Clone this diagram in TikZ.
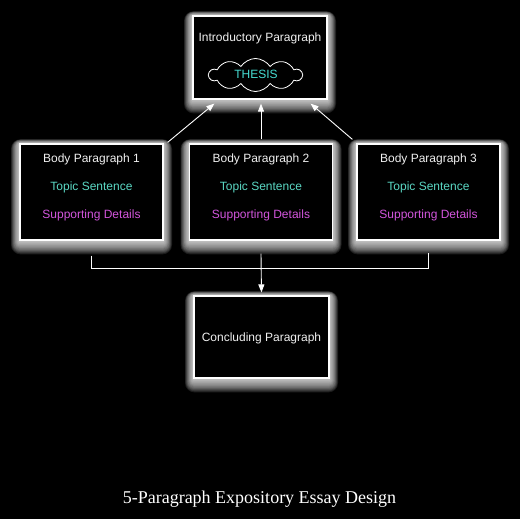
\documentclass[tikz,border=0pt]{standalone}
\usepackage{fontspec}
\setmainfont{Liberation Sans}
\newfontfamily\titlefont{Liberation Serif}
\usetikzlibrary{shapes.symbols,arrows.meta,backgrounds,calc}
\definecolor{topiccol}{RGB}{90,215,195}
\definecolor{suppcol}{RGB}{210,85,220}
\definecolor{thesiscol}{RGB}{70,220,210}
\definecolor{txtcol}{RGB}{240,240,240}
\begin{document}
\begin{tikzpicture}[x=1pt,y=-1pt,
  box/.style={draw=white, line width=1.2pt, fill=black, inner sep=0pt},
  bodybox/.style={box, minimum width=143pt, minimum height=96pt},
  lbl/.style={text=txtcol, font=\fontsize{12}{14}\selectfont, anchor=base, inner sep=0pt},
  topic/.style={lbl, text=topiccol},
  supp/.style={lbl, text=suppcol},
  conn/.style={draw=white, line width=0.9pt},
  arr/.style={conn, -{Triangle[length=8pt,width=6pt]}},
]
\useasboundingbox (0,0) rectangle (520,519);
% boxes
\node[box, minimum width=134pt, minimum height=83pt] (intro) at (260,57.5) {};
\node[bodybox] (b1) at (91.5,192) {};
\node[bodybox] (b2) at (261,192) {};
\node[bodybox] (b3) at (428.5,192) {};
\node[box, minimum width=135pt, minimum height=82pt] (conc) at (261.5,337) {};
% intro contents
\node[lbl] (introtxt) at (260,41.5) {Introductory Paragraph};
\node[cloud, draw=white, line width=0.8pt, cloud puffs=10, cloud puff arc=115,
      cloud ignores aspect, minimum width=93pt, minimum height=33pt, inner sep=0pt] (cloud) at (255.5,75) {};
\node[lbl, text=thesiscol] (thesis) at (256,78.7) {THESIS};
% body contents
\node[lbl] (h1) at (91.5,162) {Body Paragraph 1};
\node[topic] (tp1) at (91.5,190) {Topic Sentence};
\node[supp] (sd1) at (91.5,218) {Supporting Details};
\node[lbl] (h2) at (261,162) {Body Paragraph 2};
\node[topic] (tp2) at (261,190) {Topic Sentence};
\node[supp] (sd2) at (261,218) {Supporting Details};
\node[lbl] (h3) at (428.5,162) {Body Paragraph 3};
\node[topic] (tp3) at (428.5,190) {Topic Sentence};
\node[supp] (sd3) at (428.5,218) {Supporting Details};
\node[lbl] (conctxt) at (261.5,341.3) {Concluding Paragraph};
% title
\node[text=white, font=\titlefont\fontsize{18}{20}\selectfont, anchor=base, inner sep=0pt] (title) at (259.5,503) {5-Paragraph Expository Essay Design};
% arrows to intro
\coordinate (a1s) at ($(b1.north east)+(4,-1)$);
\coordinate (a1e) at ($(intro.south west)+(22,4)$);
\coordinate (a2s) at ($(b2.north)+(0,-4)$);
\coordinate (a2e) at ($(b2.north |- intro.south)+(0,4)$);
\coordinate (a3s) at ($(b3.north west)+(-4,-4)$);
\coordinate (a3e) at ($(intro.south east)+(-17,4)$);
\draw[arr] (a1s) -- (a1e);
\draw[arr] (a2s) -- (a2e);
\draw[arr] (a3s) -- (a3e);
% connector to conclusion
\coordinate (b1d) at ($(b1.south)+(0,15)$);
\coordinate (b2d) at ($(b2.south)+(0,13)$);
\coordinate (b3d) at ($(b3.south)+(0,12)$);
\coordinate (hl) at (0,268);
\draw[conn] (b1d) -- (b1d |- hl) -- (b3d |- hl) -- (b3d);
\draw[arr, shorten >=3pt] (b2d) -- (conc.north);
% background and glow
\begin{scope}[on background layer]
\fill[black] (0,0) rectangle (520,519);
\foreach \n in {intro,b1,b2,b3,conc}{
  \foreach \i in {1,...,12}{
    \fill[white, opacity=0.11, rounded corners=0.8*\i pt]
      ($(\n.north west)+(-0.7*\i,-0.35*\i)$) rectangle ($(\n.south east)+(0.7*\i,1.15*\i)$);
  }
}
\end{scope}
\end{tikzpicture}
\end{document}
